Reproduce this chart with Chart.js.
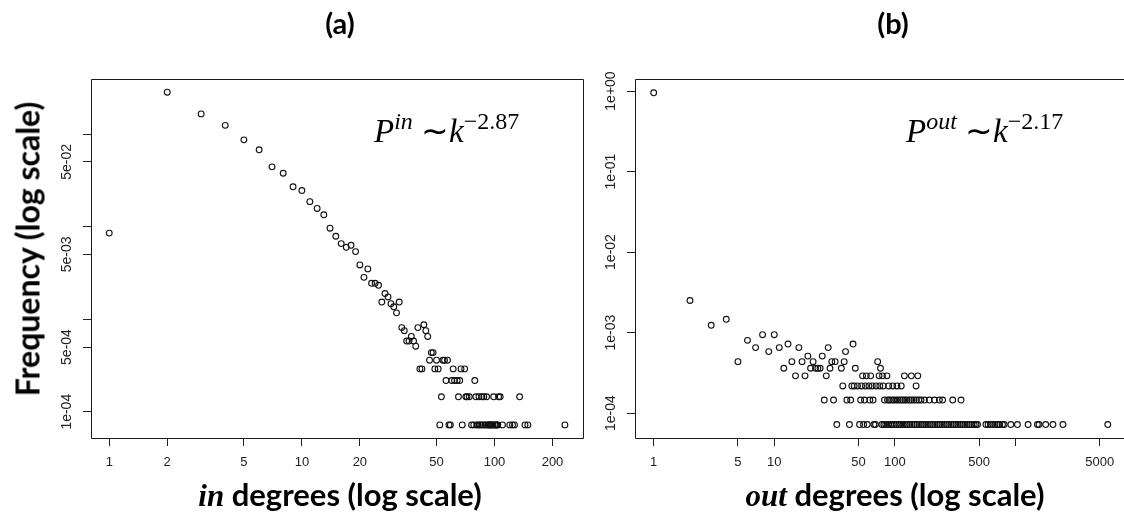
<!DOCTYPE html>
<html>
<head>
<meta charset="utf-8">
<script src="https://cdn.jsdelivr.net/npm/chart.js@4"></script>
<style>
  body { margin: 0; width: 1124px; height: 513px; overflow: hidden; background: #fff; position: relative; }
  canvas { position: absolute; top: 0; }
  .head { position: absolute; font-family: Lato, sans-serif; font-weight: bold; color: #000; white-space: nowrap; }
  .math { font-family: "Liberation Serif", serif; font-style: italic; }
  .ann { position: absolute; font-family: "Liberation Serif", serif; font-size: 33px; color: #000; white-space: nowrap; }
  .ann sup { font-size: 24px; vertical-align: 13px; }
</style>
</head>
<body>
<canvas id="inChart" width="600" height="513" style="left:0"></canvas>
<canvas id="outChart" width="530" height="513" style="left:600px"></canvas>

<div class="head" style="left:340px;top:22px;font-size:29px;transform:translate(-50%,-50%)">(a)</div>
<div class="head" style="left:893px;top:22px;font-size:29px;transform:translate(-50%,-50%)">(b)</div>
<div class="head" style="left:27px;top:249px;font-size:32px;transform:translate(-50%,-50%) rotate(-90deg)">Frequency (log scale)</div>
<div class="head" style="left:340px;top:494px;font-size:31px;transform:translate(-50%,-50%)"><span class="math">in</span> degrees (log scale)</div>
<div class="head" style="left:895px;top:494px;font-size:31px;transform:translate(-50%,-50%)"><span class="math">out</span> degrees (log scale)</div>
<div class="ann" style="left:374px;top:108px"><i>P</i><sup><i>in</i></sup> ∼<i>k</i><sup>−2.87</sup></div>
<div class="ann" style="left:906px;top:108px"><i>P</i><sup><i>out</i></sup> ∼<i>k</i><sup>−2.17</sup></div>

<script>
// (a) in-degree distribution
const inDegrees = [
  1, 2, 3, 4, 5, 6, 7, 8, 9, 10, 11, 12, 13, 14, 15, 16, 17, 18, 19, 20,
  21, 22, 23, 24, 25, 26, 27, 28, 29, 30, 31, 32, 33, 34, 35, 36, 37, 38, 39, 40,
  43, 44, 45,
  47, 48,
  46, 50, 54, 55, 57,
  41, 42, 49, 51, 61, 67, 70,
  56, 60, 62, 64, 66, 79,
  53, 65, 71, 72, 74, 80, 83, 86, 88, 91, 99, 105, 107, 135,
  52, 58, 59, 68, 76, 78, 81, 82, 84, 85, 87, 89, 90, 92, 93, 94, 95, 96, 97, 98,
  100, 101, 102, 103, 104, 110, 120, 124, 127, 144, 149, 232
];
const inFreq = [
  0.0085, 0.283, 0.165, 0.124, 0.0865, 0.0675, 0.0442, 0.0377, 0.0269, 0.0245,
  0.0186, 0.0157, 0.0134, 0.0096, 0.00786, 0.00655, 0.00597, 0.00628, 0.00537, 0.00385,
  0.00283, 0.00349, 0.00244, 0.00244, 0.00232, 0.00153, 0.00189, 0.00174, 0.00147, 0.00136,
  0.00117, 0.00153, 8.1e-4, 7.5e-4, 5.8e-4, 5.8e-4, 6.5e-4, 5.8e-4, 5.1e-4, 8.1e-4,
  8.7e-4, 7.5e-4, 6.5e-4,
  4.35e-4, 4.35e-4,
  3.6e-4, 3.6e-4, 3.6e-4, 3.6e-4, 3.6e-4,
  2.9e-4, 2.9e-4, 2.9e-4, 2.9e-4, 2.9e-4, 2.9e-4, 2.9e-4,
  2.17e-4, 2.17e-4, 2.17e-4, 2.17e-4, 2.17e-4, 2.17e-4,
  1.45e-4, 1.45e-4, 1.45e-4, 1.45e-4, 1.45e-4, 1.45e-4, 1.45e-4, 1.45e-4, 1.45e-4, 1.45e-4,
  1.45e-4, 1.45e-4, 1.45e-4, 1.45e-4,
  7.2e-5, 7.2e-5, 7.2e-5, 7.2e-5, 7.2e-5, 7.2e-5, 7.2e-5, 7.2e-5, 7.2e-5, 7.2e-5,
  7.2e-5, 7.2e-5, 7.2e-5, 7.2e-5, 7.2e-5, 7.2e-5, 7.2e-5, 7.2e-5, 7.2e-5, 7.2e-5,
  7.2e-5, 7.2e-5, 7.2e-5, 7.2e-5, 7.2e-5, 7.2e-5, 7.2e-5, 7.2e-5, 7.2e-5, 7.2e-5,
  7.2e-5, 7.2e-5
];

// (b) out-degree distribution
const outDegrees = [
  1, 2, 3, 4, 5, 6, 7, 8, 9, 10, 11, 12, 13, 14, 15, 16, 17, 18, 19, 20,
  21, 22, 23, 24, 25, 27, 28, 29, 30, 32, 36, 38, 39, 45, 47, 72, 76,
  54, 58, 63, 74, 79, 86, 120, 137, 155,
  37, 44, 46, 49, 53, 57, 61, 65, 70, 75, 80, 89, 96, 104, 113, 150,
  26, 31, 40, 43, 52, 56, 62, 66, 82, 87, 90, 94, 98, 102, 106, 111,
  116, 121, 126, 132, 138, 144, 151, 158, 165, 176, 193, 213, 234, 249, 302, 354,
  33, 42, 51, 55, 59, 67, 69, 78, 81, 84, 88, 92, 95, 99, 103, 108, 112, 117, 122, 127,
  133, 139, 145, 152, 159, 166, 173, 181, 189, 197, 206, 215, 225, 235, 246, 257, 268, 280, 293, 306,
  320, 334, 349, 365, 381, 398, 416, 435, 455, 471, 485, 569, 594, 620, 648, 677, 707, 740, 781, 807,
  916, 1039, 1274, 1521, 1570, 1782, 2048, 2478, 5834
];
const outFreq = [
  0.95, 0.0025, 0.00123, 0.00146, 4.35e-4, 8.0e-4, 6.5e-4, 9.4e-4, 5.8e-4, 9.4e-4,
  6.5e-4, 3.6e-4, 7.2e-4, 4.35e-4, 2.9e-4, 6.5e-4, 4.35e-4, 2.9e-4, 5.1e-4, 3.6e-4,
  4.35e-4, 3.6e-4, 3.6e-4, 3.6e-4, 5.1e-4, 2.9e-4, 6.5e-4, 3.6e-4, 4.35e-4, 4.35e-4,
  3.6e-4, 4.35e-4, 5.8e-4, 7.2e-4, 3.6e-4, 4.35e-4, 3.6e-4,
  2.9e-4, 2.9e-4, 2.9e-4, 2.9e-4, 2.9e-4, 2.9e-4, 2.9e-4, 2.9e-4, 2.9e-4,
  2.17e-4, 2.17e-4, 2.17e-4, 2.17e-4, 2.17e-4, 2.17e-4, 2.17e-4, 2.17e-4, 2.17e-4, 2.17e-4,
  2.17e-4, 2.17e-4, 2.17e-4, 2.17e-4, 2.17e-4, 2.17e-4,
  1.45e-4, 1.45e-4, 1.45e-4, 1.45e-4, 1.45e-4, 1.45e-4, 1.45e-4, 1.45e-4, 1.45e-4, 1.45e-4,
  1.45e-4, 1.45e-4, 1.45e-4, 1.45e-4, 1.45e-4, 1.45e-4, 1.45e-4, 1.45e-4, 1.45e-4, 1.45e-4,
  1.45e-4, 1.45e-4, 1.45e-4, 1.45e-4, 1.45e-4, 1.45e-4, 1.45e-4, 1.45e-4, 1.45e-4, 1.45e-4,
  1.45e-4, 1.45e-4,
  7.2e-5, 7.2e-5, 7.2e-5, 7.2e-5, 7.2e-5, 7.2e-5, 7.2e-5, 7.2e-5, 7.2e-5, 7.2e-5,
  7.2e-5, 7.2e-5, 7.2e-5, 7.2e-5, 7.2e-5, 7.2e-5, 7.2e-5, 7.2e-5, 7.2e-5, 7.2e-5,
  7.2e-5, 7.2e-5, 7.2e-5, 7.2e-5, 7.2e-5, 7.2e-5, 7.2e-5, 7.2e-5, 7.2e-5, 7.2e-5,
  7.2e-5, 7.2e-5, 7.2e-5, 7.2e-5, 7.2e-5, 7.2e-5, 7.2e-5, 7.2e-5, 7.2e-5, 7.2e-5,
  7.2e-5, 7.2e-5, 7.2e-5, 7.2e-5, 7.2e-5, 7.2e-5, 7.2e-5, 7.2e-5, 7.2e-5, 7.2e-5,
  7.2e-5, 7.2e-5, 7.2e-5, 7.2e-5, 7.2e-5, 7.2e-5, 7.2e-5, 7.2e-5, 7.2e-5, 7.2e-5,
  7.2e-5, 7.2e-5, 7.2e-5, 7.2e-5, 7.2e-5, 7.2e-5, 7.2e-5, 7.2e-5, 7.2e-5
];

// axis ticks and labels (empty label = tick without text, like R drops overlapping ones)
const inXTicks = [1, 2, 5, 10, 20, 50, 100, 200];
const inXLabels = ['1', '2', '5', '10', '20', '50', '100', '200'];
const inYTicks = [1e-1, 5e-2, 1e-2, 5e-3, 1e-3, 5e-4, 1e-4];
const inYLabels = ['', '5e-02', '', '5e-03', '', '5e-04', '1e-04'];
const outXTicks = [1, 5, 10, 50, 100, 500, 1000, 5000];
const outXLabels = ['1', '5', '10', '50', '100', '500', '', '5000'];
const outYTicks = [1, 1e-1, 1e-2, 1e-3, 1e-4];
const outYLabels = ['1e+00', '1e-01', '1e-02', '1e-03', '1e-04'];

const tickFont = { family: 'Liberation Sans', size: 13 };
const yTickFont = '14px Liberation Sans';

// draws the box round the plot and the rotated y labels (R style)
const framePlugin = {
  id: 'frame',
  afterDraw(chart, args, opts) {
    const ctx = chart.ctx;
    const a = chart.chartArea;
    ctx.save();
    ctx.strokeStyle = '#1a1a1a';
    ctx.lineWidth = 1;
    ctx.beginPath();
    ctx.moveTo(a.right + 0.5, a.top + 0.5);
    ctx.lineTo(a.left + 0.5, a.top + 0.5);
    ctx.lineTo(a.left + 0.5, a.bottom + 0.5);
    ctx.lineTo(a.right + 0.5, a.bottom + 0.5);
    if (opts.closed) ctx.lineTo(a.right + 0.5, a.top + 0.5);
    ctx.stroke();

    const yScale = chart.scales.y;
    ctx.fillStyle = '#222';
    ctx.font = yTickFont;
    ctx.textAlign = 'center';
    ctx.textBaseline = 'middle';
    opts.yTicks.forEach(function(v, i) {
      if (!opts.yLabels[i]) return;
      ctx.save();
      ctx.translate(opts.labelX, yScale.getPixelForValue(v));
      ctx.rotate(-Math.PI / 2);
      ctx.fillText(opts.yLabels[i], 0, 0);
      ctx.restore();
    });
    ctx.restore();
  }
};

function makePanel(id, degrees, freq, xTicks, xLabels, yTicks, yLabels, range, box) {
  const points = degrees.map(function(d, i) { return { x: d, y: freq[i] }; });
  return new Chart(document.getElementById(id), {
    type: 'scatter',
    data: {
      datasets: [{
        data: points,
        pointRadius: 2.9,
        pointHoverRadius: 2.9,
        pointBorderWidth: 1.1,
        borderColor: '#111',
        backgroundColor: 'rgba(0,0,0,0)'
      }]
    },
    options: {
      responsive: false,
      animation: false,
      events: [],
      layout: { padding: { top: 79, right: box.padRight, left: 0, bottom: 0 } },
      plugins: {
        legend: { display: false },
        tooltip: { enabled: false },
        frame: { yTicks: yTicks, yLabels: yLabels, labelX: box.labelX, closed: box.closed }
      },
      scales: {
        x: {
          type: 'logarithmic',
          min: range.xMin,
          max: range.xMax,
          afterBuildTicks: function(s) { s.ticks = xTicks.map(function(v) { return { value: v }; }); },
          afterFit: function(s) { s.height = 75; },
          ticks: {
            autoSkip: false,
            maxRotation: 0,
            padding: 9,
            color: '#222',
            font: tickFont,
            callback: function(v) { return xLabels[xTicks.indexOf(v)]; }
          },
          grid: { drawOnChartArea: false, tickLength: 8, color: '#222' },
          border: { display: false }
        },
        y: {
          type: 'logarithmic',
          min: range.yMin,
          max: range.yMax,
          afterBuildTicks: function(s) { s.ticks = yTicks.map(function(v) { return { value: v }; }); },
          afterFit: function(s) { s.width = box.yWidth; },
          ticks: { display: false },
          grid: { drawOnChartArea: false, tickLength: 8, color: '#222' },
          border: { display: false }
        }
      }
    },
    plugins: [framePlugin]
  });
}

makePanel('inChart', inDegrees, inFreq, inXTicks, inXLabels, inYTicks, inYLabels,
  { xMin: 0.804, xMax: 288, yMin: 5.2e-5, yMax: 0.393 },
  { yWidth: 91, padRight: 17, labelX: 67, closed: true });

makePanel('outChart', outDegrees, outFreq, outXTicks, outXLabels, outYTicks, outYLabels,
  { xMin: 0.707, xMax: 8260, yMin: 4.9e-5, yMax: 1.41 },
  { yWidth: 35, padRight: 3, labelX: 11, closed: false });
</script>
</body>
</html>
